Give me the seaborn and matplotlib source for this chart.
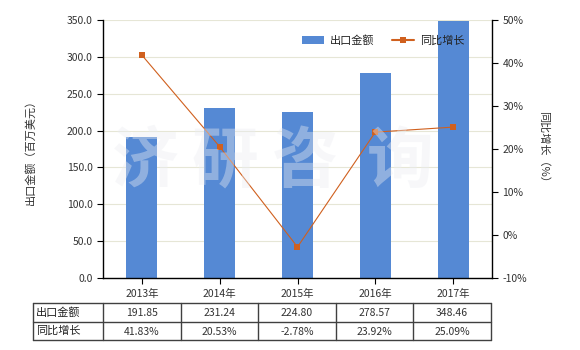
import matplotlib
matplotlib.use("Agg")
import matplotlib.pyplot as plt
import seaborn as sns
import numpy as np
import pandas as pd
from matplotlib.lines import Line2D
from matplotlib.patches import Patch

years = ["2013年", "2014年", "2015年", "2016年", "2017年"]
export_values = [191.85, 231.24, 224.80, 278.57, 348.46]
growth_pct = [41.83, 20.53, -2.78, 23.92, 25.09]
export_labels = ["191.85", "231.24", "224.80", "278.57", "348.46"]
growth_labels = ["41.83%", "20.53%", "-2.78%", "23.92%", "25.09%"]
left_ticks = [0, 50, 100, 150, 200, 250, 300, 350]
right_ticks = [-10, 0, 10, 20, 30, 40, 50]

sns.set_theme(style="white")
plt.rcParams['font.family'] = ['Noto Sans CJK SC', 'DejaVu Sans']
plt.rcParams['axes.unicode_minus'] = False

W, H = 580, 350
fig = plt.figure(figsize=(5.8, 3.5), dpi=100)
L, R, T, B = 103, 492, 20, 278
ax = fig.add_axes([L / W, 1 - B / H, (R - L) / W, (B - T) / H])

bar_color = "#5589d4"
line_color = "#d0601e"
txt_color = "#333333"

df = pd.DataFrame({"year": years, "value": export_values, "growth": growth_pct})
sns.barplot(data=df, x="year", y="value", color=bar_color, width=0.4,
            saturation=1, ax=ax, zorder=2, linewidth=0)
ax.set_ylim(0, 350)
ax.set_xlim(-0.5, 4.5)
ax.set_yticks(left_ticks)
ax.set_yticklabels([f"{v:.1f}" for v in left_ticks])
ax.yaxis.grid(True, color="#e6e6d6", linewidth=0.8, zorder=0)
ax.set_axisbelow(True)
ax.set_xlabel("")
ax.set_ylabel("出口金额（百万美元）", fontsize=8, color=txt_color, labelpad=22)
for s in ["top", "right"]:
    ax.spines[s].set_visible(False)
for s in ["left", "bottom"]:
    ax.spines[s].set_color("black")
    ax.spines[s].set_linewidth(1)
ax.tick_params(axis="both", which="both", direction="out", length=4, width=0.8,
               colors="black", labelsize=7.5, labelcolor=txt_color,
               left=True, bottom=True)
ax.tick_params(axis="x", pad=4)

ax2 = ax.twinx()
sns.lineplot(x=np.arange(len(years)), y=growth_pct, ax=ax2, color=line_color,
             marker="s", markersize=5, markeredgewidth=0, linewidth=0.8, zorder=5)
ax2.set_ylim(-10, 50)
ax2.set_yticks(right_ticks)
ax2.set_yticklabels([f"{v}%" for v in right_ticks])
for s in ["top", "left", "bottom"]:
    ax2.spines[s].set_visible(False)
ax2.spines["right"].set_color("black")
ax2.spines["right"].set_linewidth(1)
ax2.tick_params(axis="y", direction="out", length=4, width=0.8, colors="black",
                labelsize=7.5, labelcolor=txt_color, right=True)
ax2.set_ylabel("同比增长（%）", fontsize=8, color=txt_color, rotation=-90,
               labelpad=16)
ax2.grid(False)

# watermark
wm_chars = ["济", "研", "咨", "询"]
wm_x = [145, 225, 305, 400]
for ch, x in zip(wm_chars, wm_x):
    fig.text(x / W, 1 - 162 / H, ch, fontsize=48, fontweight="bold",
             color=(0.92, 0.93, 0.95), alpha=0.4, ha="center", va="center",
             zorder=10)

# legend
handles = [Patch(facecolor=bar_color, edgecolor="none"),
           Line2D([0], [0], color=line_color, marker="s", markersize=4,
                  linewidth=1.5, markeredgewidth=0)]
leg = ax.legend(handles, ["出口金额", "同比增长"], loc="upper right",
                bbox_to_anchor=(0.955, 0.98), ncol=2, frameon=False,
                fontsize=8, handlelength=2.0, columnspacing=1.6,
                handletextpad=0.5)
for t in leg.get_texts():
    t.set_color("#222222")
leg.set_zorder(20)

# data table
tx0, tx1, ty0, ty1, ty2 = 33, 491, 303, 322, 340
first_w = 70
col_w = (tx1 - tx0 - first_w) / len(years)
edge = "#404040"
def fx(x):
    return x / W
def fy(y):
    return 1 - y / H
for y in [ty0, ty1, ty2]:
    fig.add_artist(Line2D([fx(tx0), fx(tx1)], [fy(y), fy(y)], color=edge, lw=1))
xs = [tx0, tx0 + first_w] + [tx0 + first_w + col_w * (i + 1) for i in range(len(years))]
for x in xs:
    fig.add_artist(Line2D([fx(x), fx(x)], [fy(ty0), fy(ty2)], color=edge, lw=1))
rows = [("出口金额", export_labels), ("同比增长", growth_labels)]
for r, (name, vals) in enumerate(rows):
    yc = (ty0 + ty1) / 2 if r == 0 else (ty1 + ty2) / 2
    fig.text(fx(tx0 + 3), fy(yc), name, fontsize=8, color="#222222",
             ha="left", va="center")
    for i, v in enumerate(vals):
        xc = tx0 + first_w + col_w * (i + 0.5)
        fig.text(fx(xc), fy(yc + 1), v, fontsize=7.5, color=txt_color,
                 ha="center", va="center")

fig.savefig("out.png", dpi=100)
